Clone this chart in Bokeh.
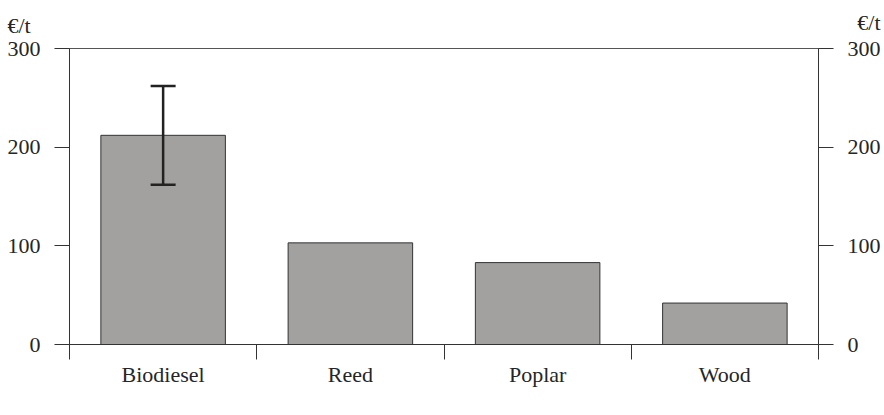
from bokeh.plotting import figure
from bokeh.models import (Range1d, LinearAxis, FixedTicker,
                          Whisker, ColumnDataSource, Title, TeeHead)
from bokeh.embed import file_html
from bokeh.resources import INLINE

# ---- data ----
categories = ["Biodiesel", "Reed", "Poplar", "Wood"]
costs = [212, 103, 83, 42]
err_categories = ["Biodiesel"]
err_lower = [162]
err_upper = [262]
y_ticks = [0, 100, 200, 300]
unit = "€/t"

FONT = "Liberation Serif"
FS = "22px"
TXT = "#262626"
LINE = "#333333"

n = len(categories)
centers = [i + 0.5 for i in range(n)]
edges = list(range(n + 1))

p = figure(x_range=Range1d(0, n), y_range=Range1d(0, 300),
           frame_width=749, frame_height=296,
           min_border_left=69, min_border_right=62,
           min_border_top=48, min_border_bottom=62,
           output_backend="svg", toolbar_location=None,
           x_axis_location=None, y_axis_location=None)
p.xgrid.visible = False
p.ygrid.visible = False
p.outline_line_color = "#555555"
p.outline_line_width = 1
p.background_fill_color = "white"
p.border_fill_color = "white"

src = ColumnDataSource(dict(x=centers, cost=costs, cat=categories))
p.vbar(x="x", top="cost", width=0.665, source=src,
       fill_color="#a3a19f", line_color=LINE, line_width=1)

err_x = [centers[categories.index(c)] for c in err_categories]
esrc = ColumnDataSource(dict(x=err_x, lo=err_lower, hi=err_upper))
w = Whisker(base="x", lower="lo", upper="hi", source=esrc, level="overlay",
            line_color="#222222", line_width=2.5,
            upper_head=TeeHead(size=25, line_color="#222222", line_width=2.5),
            lower_head=TeeHead(size=25, line_color="#222222", line_width=2.5))
p.add_layout(w)

def yaxis(standoff):
    return LinearAxis(ticker=FixedTicker(ticks=y_ticks, minor_ticks=[]),
                      major_tick_out=15, major_tick_in=0,
                      minor_tick_out=0, minor_tick_in=0,
                      axis_line_color=LINE, major_tick_line_color=LINE,
                      major_label_standoff=standoff,
                      major_label_text_font=FONT,
                      major_label_text_font_size=FS,
                      major_label_text_color=TXT)

p.add_layout(yaxis(14), "left")
p.add_layout(yaxis(14), "right")

edge_axis = LinearAxis(ticker=FixedTicker(ticks=edges, minor_ticks=[]),
                       major_tick_out=15, major_tick_in=0,
                       minor_tick_out=0, minor_tick_in=0,
                       axis_line_color=LINE, major_tick_line_color=LINE,
                       major_label_overrides={e: "" for e in edges},
                       major_label_standoff=0)
p.add_layout(edge_axis, "below")

cat_axis = LinearAxis(ticker=FixedTicker(ticks=centers, minor_ticks=[]),
                      major_tick_out=0, major_tick_in=0,
                      minor_tick_out=0, minor_tick_in=0,
                      axis_line_color=None, major_tick_line_color=None,
                      major_label_overrides={c: name for c, name in zip(centers, categories)},
                      major_label_standoff=2,
                      major_label_text_font=FONT,
                      major_label_text_font_size=FS,
                      major_label_text_color=TXT)
p.add_layout(cat_axis, "below")

t_left = Title(text=unit, align="left", offset=-62, standoff=21,
               text_font=FONT, text_font_size=FS, text_font_style="normal",
               text_color=TXT)
t_right = Title(text=unit, align="right", offset=-62, standoff=-68,
                text_font=FONT, text_font_size=FS, text_font_style="normal",
                text_color=TXT)
p.add_layout(t_left, "above")
p.add_layout(t_right, "above")

open("out.html", "w").write(file_html(p, INLINE))
